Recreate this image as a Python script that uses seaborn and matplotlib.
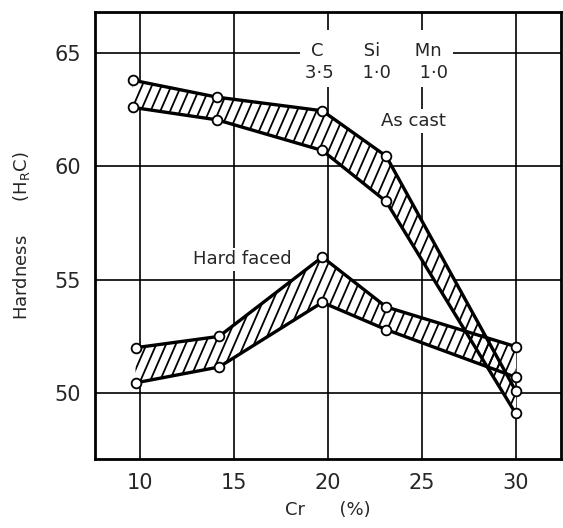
import numpy as np
import pandas as pd
import seaborn as sns
import matplotlib.pyplot as plt
from matplotlib.collections import LineCollection

# Cr content (%) and hardness (HRC)
cr_cast = [9.6, 14.1, 19.7, 23.1, 30.0]
cast_upper = [63.8, 63.05, 62.45, 60.45, 50.1]
cast_lower = [62.6, 62.05, 60.7, 58.45, 49.1]

cr_faced = [9.75, 14.2, 19.7, 23.1, 30.0]
faced_upper = [52.0, 52.5, 56.0, 53.8, 52.05]
faced_lower = [50.45, 51.15, 54.0, 52.8, 50.7]

x_ticks = [10, 15, 20, 25, 30]
y_ticks = [50, 55, 60, 65]

sns.set_style("white")
plt.rcParams['font.family'] = ['DejaVu Sans']

df = pd.concat([
    pd.DataFrame({'Cr': cr_cast, 'Hardness': cast_upper, 'series': 'cast_upper'}),
    pd.DataFrame({'Cr': cr_cast, 'Hardness': cast_lower, 'series': 'cast_lower'}),
    pd.DataFrame({'Cr': cr_faced, 'Hardness': faced_upper, 'series': 'faced_upper'}),
    pd.DataFrame({'Cr': cr_faced, 'Hardness': faced_lower, 'series': 'faced_lower'}),
])

fig = plt.figure(figsize=(5.63, 5.28), dpi=100)
ax = fig.add_axes([0.169, 0.131, 0.827, 0.846])
ax.set_xlim(7.6, 32.4)
ax.set_ylim(47.1, 66.8)


def steep_hatch(poly, step=0.52, slope=1.9):
    # steep "/" strokes clipped to the band (hatch is only styling)
    y0, y1 = ax.get_ylim()
    segs = []
    for x0 in np.arange(-10, 36, step):
        segs.append([(x0, y0), (x0 + (y1 - y0) / slope, y1)])
    lc = LineCollection(segs, colors='black', linewidths=1.3, zorder=2.5)
    ax.add_collection(lc)
    lc.set_clip_path(poly.get_paths()[0], ax.transData)


# hatched bands, white fill hides the grid behind them
band1 = ax.fill_between(cr_cast, cast_lower, cast_upper, facecolor='white',
                        linewidth=0, zorder=2)
band2 = ax.fill_between(cr_faced, faced_lower, faced_upper, facecolor='white',
                        linewidth=0, zorder=2)
steep_hatch(band1)
steep_hatch(band2)

sns.lineplot(data=df, x='Cr', y='Hardness', units='series', estimator=None,
             color='black', linewidth=2.4, marker='o', markersize=7,
             markerfacecolor='white', markeredgecolor='black', markeredgewidth=1.3,
             sort=False, ax=ax, zorder=3)

ax.set_xlim(7.6, 32.4)
ax.set_ylim(47.1, 66.8)
ax.set_xticks(x_ticks)
ax.set_yticks(y_ticks)
ax.grid(True, color='black', linewidth=1.2)
ax.set_axisbelow(True)
for s in ax.spines.values():
    s.set_color('black')
    s.set_linewidth(2)
ax.tick_params(length=0, labelsize=15, pad=10)

ax.set_xlabel('Cr      (%)', fontsize=13, labelpad=6)
ax.set_ylabel('Hardness      (H$_{\\rm R}$C)', fontsize=13, labelpad=16)

ax.text(22.6, 65.1, 'C       Si      Mn', fontsize=13, ha='center', va='center', zorder=4,
        bbox=dict(facecolor='white', edgecolor='none', pad=8))
ax.text(22.6, 64.1, '3·5     1·0     1·0', fontsize=13, ha='center', va='center', zorder=4,
        bbox=dict(facecolor='white', edgecolor='none', pad=3))
ax.text(22.8, 62.0, 'As cast', fontsize=13, ha='left', va='center', zorder=4,
        bbox=dict(facecolor='white', edgecolor='none', pad=2))
ax.text(12.8, 55.9, 'Hard faced', fontsize=13, ha='left', va='center', zorder=4,
        bbox=dict(facecolor='white', edgecolor='none', pad=2))

plt.savefig('out.png', dpi=100)
